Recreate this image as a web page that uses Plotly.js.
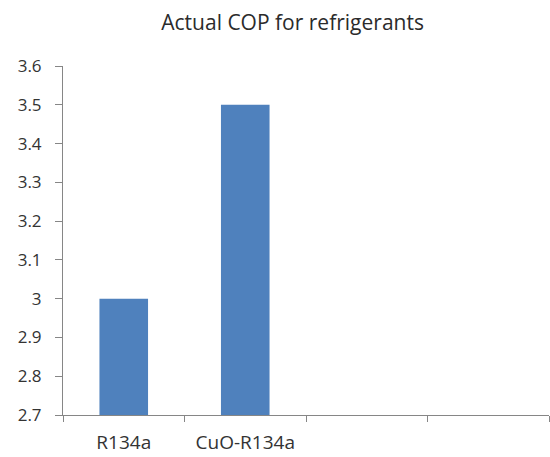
<!DOCTYPE html>
<html>
<head>
<meta charset="utf-8">
<script src="https://cdn.plot.ly/plotly-3.0.1.min.js"></script>
<style>html,body{margin:0;padding:0;background:#fff;}#chart{width:550px;height:457px;}</style>
</head>
<body>
<div id="chart"></div>
<script>
var categories = ["R134a", "CuO-R134a"];
var emptySlots = [" ", "  "];
var copValues = [3.0, 3.5];
var yTicks = [2.7, 2.8, 2.9, 3.0, 3.1, 3.2, 3.3, 3.4, 3.5, 3.6];
var yTickText = ["2.7", "2.8", "2.9", "3", "3.1", "3.2", "3.3", "3.4", "3.5", "3.6"];

var trace = {
  type: "bar",
  x: categories,
  y: copValues.map(function(v){ return v - 2.7; }),
  base: 2.7,
  width: 0.4,
  marker: {color: "#4F81BD", line: {width: 0}},
  hoverinfo: "x+y"
};

var layout = {
  width: 550, height: 457,
  margin: {l: 63, r: 1, t: 66, b: 42},
  paper_bgcolor: "#fff", plot_bgcolor: "#fff",
  showlegend: false,
  font: {family: "Open Sans, Liberation Sans, sans-serif", size: 13, color: "#333"},
  title: {text: "Actual COP for refrigerants", x: 0.532, xanchor: "center", y: 0.95, yanchor: "middle",
          font: {size: 21, color: "#2b2b2b"}},
  xaxis: {
    type: "category",
    categoryorder: "array",
    categoryarray: categories.concat(emptySlots),
    range: [-0.5, 3.5],
    tickson: "boundaries",
    ticks: "outside", ticklen: 6, tickcolor: "#868686", tickwidth: 1,
    showline: true, linecolor: "#868686", linewidth: 1,
    showgrid: false, zeroline: false,
    automargin: false,
    ticklabelstandoff: 10,
    tickfont: {size: 19, color: "#333"},
    fixedrange: true
  },
  yaxis: {
    range: [2.7, 3.6],
    tickvals: yTicks, ticktext: yTickText,
    ticks: "outside", ticklen: 7, tickcolor: "#868686", tickwidth: 1,
    showline: true, linecolor: "#868686", linewidth: 1,
    showgrid: false, zeroline: false,
    automargin: false,
    ticklabelstandoff: 10,
    tickfont: {size: 17, color: "#333"},
    fixedrange: true
  }
};

Plotly.newPlot("chart", [trace], layout, {displayModeBar: false, staticPlot: true});
</script>
</body>
</html>
